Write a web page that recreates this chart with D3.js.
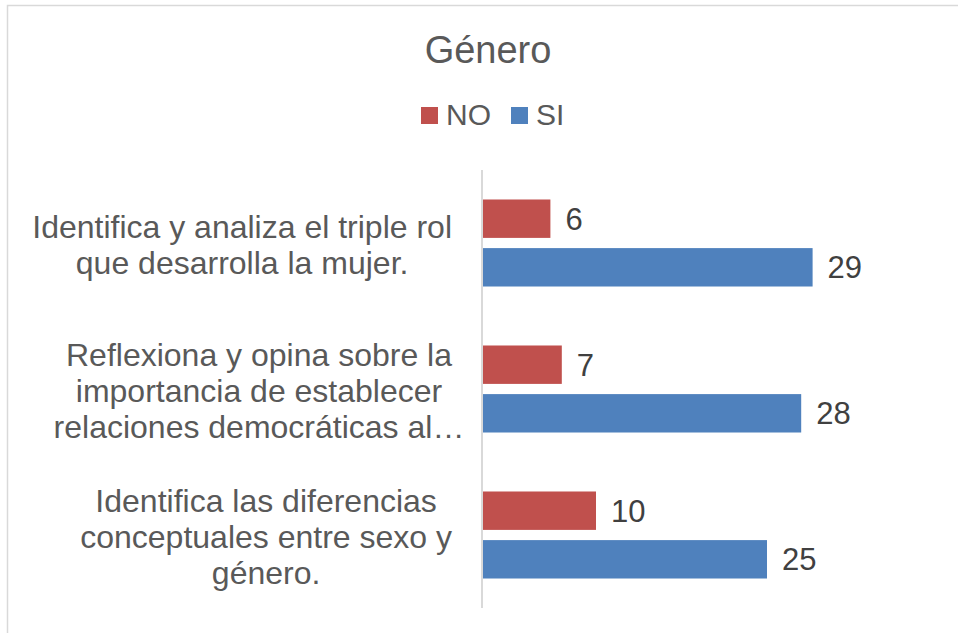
<!DOCTYPE html>
<html>
<head>
<meta charset="utf-8">
<script src="https://cdn.jsdelivr.net/npm/d3@7"></script>
<style>
  body { margin: 0; background: #fff; }
  svg { display: block; font-family: Arial, "Liberation Sans", sans-serif; }
</style>
</head>
<body>
<svg id="chart" width="958" height="633"></svg>
<script>
// Chart data
const categories = [
    ['Identifica y analiza el triple rol', 'que desarrolla la mujer.'],
    ['Reflexiona y opina sobre la', 'importancia de establecer', 'relaciones democráticas al…'],
    ['Identifica las diferencias', 'conceptuales entre sexo y', 'género.']
];
const seriesNames = ['NO', 'SI'];
const noValues = [6, 7, 10];
const siValues = [29, 28, 25];
const colors = { NO: '#C0504D', SI: '#4F81BD' };

const svg = d3.select('#chart');

// Outer chart border (right and bottom fall outside the picture)
svg.append('rect')
    .attr('x', 7.5).attr('y', 5.5)
    .attr('width', 1000).attr('height', 1000)
    .attr('fill', 'none')
    .attr('stroke', '#d9d9d9')
    .attr('stroke-width', 1.5);

// Title
svg.append('text')
    .attr('x', 488).attr('y', 63)
    .attr('text-anchor', 'middle')
    .attr('font-size', 38)
    .attr('fill', '#595959')
    .text('Género');

// Legend
const legendPos = [421, 511];
seriesNames.forEach((name, i) => {
    svg.append('rect')
        .attr('x', legendPos[i]).attr('y', 107)
        .attr('width', 17).attr('height', 17)
        .attr('fill', colors[name]);
    svg.append('text')
        .attr('x', legendPos[i] + 25).attr('y', 125)
        .attr('font-size', 30)
        .attr('fill', '#595959')
        .text(name);
});

// Scales
const rows = categories.map((c, i) => ({ key: i, lines: c, NO: noValues[i], SI: siValues[i] }));

const y0 = d3.scaleBand()
    .domain(rows.map(d => d.key))
    .range([170, 608])
    .paddingInner(0.404)
    .paddingOuter(0.202);

const y1 = d3.scaleBand()
    .domain(seriesNames)
    .range([0, y0.bandwidth()])
    .paddingInner(0.21);

const x = d3.scaleLinear()
    .domain([0, 35])
    .range([482, 881]);

// Bars
const groups = svg.append('g')
    .selectAll('g')
    .data(rows)
    .join('g')
    .attr('transform', d => `translate(0,${y0(d.key)})`);

groups.selectAll('rect')
    .data(d => seriesNames.map(s => ({ series: s, value: d[s] })))
    .join('rect')
    .attr('x', x(0))
    .attr('y', d => y1(d.series))
    .attr('width', d => x(d.value) - x(0))
    .attr('height', y1.bandwidth())
    .attr('fill', d => colors[d.series]);

groups.selectAll('text.value')
    .data(d => seriesNames.map(s => ({ series: s, value: d[s] })))
    .join('text')
    .attr('class', 'value')
    .attr('x', d => x(d.value) + 15)
    .attr('y', d => y1(d.series) + y1.bandwidth() / 2 + 11)
    .attr('font-size', 31)
    .attr('fill', '#404040')
    .text(d => d.value);

// Category axis line
svg.append('line')
    .attr('x1', x(0)).attr('x2', x(0))
    .attr('y1', 170).attr('y2', 608)
    .attr('stroke', '#d9d9d9')
    .attr('stroke-width', 2);

// Category labels: lines centered in a box whose right edge sits left of the axis
const lineHeight = 36;
const labelRight = 452;
rows.forEach(d => {
    const cy = y0(d.key) + y0.bandwidth() / 2;
    const n = d.lines.length;
    const t = svg.append('text')
        .attr('text-anchor', 'middle')
        .attr('font-size', 32)
        .attr('fill', '#595959');
    const spans = d.lines.map((line, i) => t.append('tspan')
        .attr('y', cy + 13 + (i - (n - 1) / 2) * lineHeight)
        .text(line));
    // box width from the full (not truncated) lines
    const widths = spans
        .filter((s, i) => !d.lines[i].endsWith('…'))
        .map(s => s.node().getComputedTextLength());
    const boxW = d3.max(widths);
    spans.forEach(s => s.attr('x', labelRight - boxW / 2));
});
</script>
</body>
</html>
